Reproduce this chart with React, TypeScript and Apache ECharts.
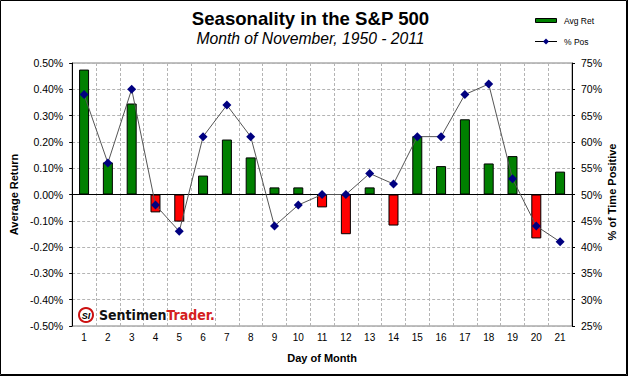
import React, { useEffect, useRef } from "react";
import * as echarts from "echarts";

const days = ["1","2","3","4","5","6","7","8","9","10","11","12","13","14","15","16","17","18","19","20","21"];
const avgRet = [0.475, 0.122, 0.346, -0.068, -0.103, 0.072, 0.209, 0.141, 0.027, 0.027, -0.049, -0.151, 0.027, -0.118, 0.222, 0.108, 0.286, 0.118, 0.146, -0.167, 0.087];
const pctPos = [69, 56, 70, 48, 43, 61, 67, 61, 44, 48, 50, 50, 54, 52, 61, 61, 69, 71, 53, 44, 41];

const titleText = "Seasonality in the S&P 500";
const subtitleText = "Month of November, 1950 - 2011";
const rightAxisName = "% of Time Positive";

const FONT = "Arial, 'Liberation Sans', sans-serif";

export default function App() {
  const ref = useRef<HTMLDivElement>(null);
  useEffect(() => {
    document.body.style.margin = "0";
    const chart = echarts.init(ref.current!, null, { renderer: "svg" });
    chart.setOption({
      animation: false,
      backgroundColor: "#fff",
      textStyle: { fontFamily: FONT },
      grid: { left: 71, right: 56, top: 63, bottom: 50, show: true, borderColor: "#808080", borderWidth: 1, backgroundColor: "#fff" },
      xAxis: {
        type: "category",
        data: days,
        name: "Day of Month",
        nameLocation: "middle",
        nameGap: 26,
        nameTextStyle: { fontWeight: "bold", fontSize: 11, color: "#000", fontFamily: FONT },
        axisLine: { show: false, onZero: false },
        axisTick: { show: false },
        axisLabel: { fontSize: 10, color: "#000", margin: 6, fontFamily: FONT },
        splitLine: { show: true, lineStyle: { color: "#b4b4b4", type: [3, 2], width: 1 } },
      },
      yAxis: [
        {
          type: "value",
          min: -0.5,
          max: 0.5,
          interval: 0.1,
          name: "Average Return",
          nameLocation: "middle",
          nameRotate: 90,
          nameGap: 50,
          nameTextStyle: { fontWeight: "bold", fontSize: 11, color: "#000", fontFamily: FONT },
          axisLine: { show: true, lineStyle: { color: "#000" } },
          axisTick: { show: true, length: 3, lineStyle: { color: "#000" } },
          axisLabel: { fontSize: 10.5, color: "#000", margin: 9, fontFamily: FONT, formatter: (v: number) => v.toFixed(2) + "%" },
          splitLine: { show: true, lineStyle: { color: "#b4b4b4", type: [3, 2], width: 1 } },
        },
        {
          type: "value",
          min: 25,
          max: 75,
          interval: 5,
          axisLine: { show: true, lineStyle: { color: "#000" } },
          axisTick: { show: true, length: 3, lineStyle: { color: "#000" } },
          axisLabel: { fontSize: 10.5, color: "#000", margin: 9, fontFamily: FONT, formatter: (v: number) => v + "%" },
          splitLine: { show: false },
        },
      ],
      series: [
        {
          name: "Avg Ret",
          type: "bar",
          yAxisIndex: 0,
          barWidth: 10,
          data: avgRet.map((v) => ({
            value: v,
            itemStyle: { color: v >= 0 ? "#008000" : "#ff0000", borderColor: "#000", borderWidth: 1 },
          })),
          markLine: {
            silent: true,
            symbol: ["none", "none"],
            label: { show: false },
            lineStyle: { color: "#000", width: 1, type: "solid" },
            data: [{ yAxis: 0 }],
          },
        },
        {
          name: "% Pos",
          type: "line",
          yAxisIndex: 1,
          data: pctPos,
          symbol: "diamond",
          symbolSize: 9,
          itemStyle: { color: "#000080" },
          lineStyle: { color: "#555", width: 1 },
          z: 5,
        },
      ],
      graphic: [
        { type: "rect", shape: { x: 0.5, y: 0.5, width: 626, height: 374 }, style: { fill: "none", stroke: "#000", lineWidth: 1 }, z: 100 },
        { type: "line", shape: { x1: 627.5, y1: 0, x2: 627.5, y2: 376 }, style: { stroke: "#000", lineWidth: 1 }, z: 100 },
        { type: "line", shape: { x1: 0, y1: 375.5, x2: 628, y2: 375.5 }, style: { stroke: "#000", lineWidth: 1 }, z: 100 },
        { type: "text", x: 310.5, y: 18.5, style: { text: titleText, fontFamily: FONT, fontWeight: "bold", fontSize: 18.6, fill: "#000", align: "center", verticalAlign: "middle" } },
        { type: "text", x: 310.5, y: 38.5, style: { text: subtitleText, fontFamily: FONT, fontStyle: "italic", fontSize: 15.7, fill: "#000", align: "center", verticalAlign: "middle" } },
        { type: "text", x: 612, y: 192, rotation: Math.PI / 2, style: { text: rightAxisName, fontFamily: FONT, fontWeight: "bold", fontSize: 11, fill: "#000", align: "center", verticalAlign: "middle" } },
        // legend
        { type: "rect", shape: { x: 535.5, y: 18.5, width: 21, height: 4 }, style: { fill: "#008000", stroke: "#000", lineWidth: 1 } },
        { type: "text", x: 564, y: 21, style: { text: "Avg Ret", fontFamily: FONT, fontSize: 8.5, fill: "#000", align: "left", verticalAlign: "middle" } },
        { type: "line", shape: { x1: 535, y1: 41.5, x2: 557, y2: 41.5 }, style: { stroke: "#000", lineWidth: 1 } },
        { type: "polygon", shape: { points: [[546, 38.5], [549, 41.5], [546, 44.5], [543, 41.5]] }, style: { fill: "#000080" } },
        { type: "text", x: 564, y: 42, style: { text: "% Pos", fontFamily: FONT, fontSize: 8.5, fill: "#000", align: "left", verticalAlign: "middle" } },
        // logo
        { type: "circle", shape: { cx: 86, cy: 315, r: 7 }, style: { fill: "#fff", stroke: "#cc1111", lineWidth: 2 }, z: 10 },
        { type: "text", x: 86, y: 315.5, z: 11, style: { text: "SI", fontFamily: FONT, fontWeight: "bold", fontStyle: "italic", fontSize: 9, fill: "#000", align: "center", verticalAlign: "middle" } },
        {
          type: "text",
          x: 99,
          y: 315,
          z: 11,
          style: {
            text: "{a|Sentimen}{b|Trader.}",
            align: "left",
            verticalAlign: "middle",
            rich: {
              a: { fontFamily: "'Liberation Sans Narrow', 'DejaVu Sans Condensed', sans-serif", fontWeight: "bold", fontSize: 14, fill: "#111" },
              b: { fontFamily: "'Liberation Sans Narrow', 'DejaVu Sans Condensed', sans-serif", fontWeight: "bold", fontSize: 14, fill: "#d42020" },
            },
          },
        },
      ],
    });
    return () => chart.dispose();
  }, []);
  return <div ref={ref} style={{ width: 628, height: 376 }} />;
}
